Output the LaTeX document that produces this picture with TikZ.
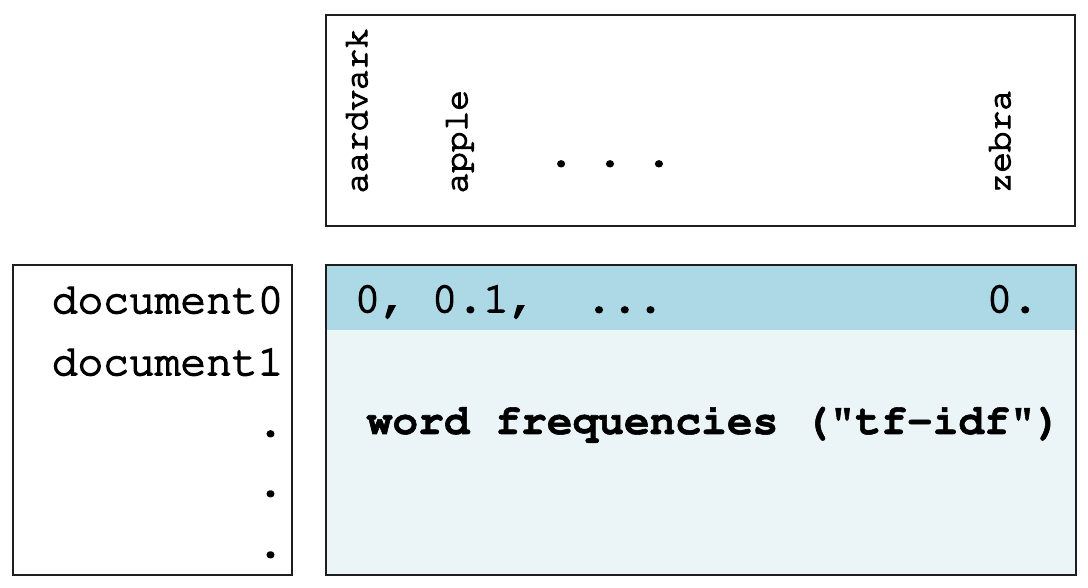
\documentclass[tikz,border=0pt]{standalone}
\usepackage[T1]{fontenc}
\renewcommand{\ttdefault}{pcr}
\definecolor{bandblue}{RGB}{173,216,230}
\definecolor{paleblue}{RGB}{235,244,247}
\definecolor{boxline}{RGB}{30,30,30}
\newcommand{\inkon}[1]{\special{pdf:literal direct 2 Tr #1 w}}
\newcommand{\inkoff}{\special{pdf:literal direct 0 Tr}}
\begin{document}
\begin{tikzpicture}[line width=0.9pt, boxline,
    every node/.style={inner sep=0pt, black, font=\ttfamily\frenchspacing\fontsize{30.5}{36}\selectfont,
        execute at begin node=\inkon{1.1}, execute at end node=\inkoff},
    word/.style={rotate=90, anchor=base west, font=\ttfamily\fontsize{24.5}{29}\selectfont,
        execute at begin node=\inkon{0.9}},
    heading/.style={font=\ttfamily\bfseries\fontsize{30.5}{36}\selectfont,
        execute at begin node=\inkon{0.4}},
    doc/.style={anchor=base east}]
\useasboundingbox (0,0) rectangle (27.2,14.7);
% vocabulary box
\draw (8.15,14.325) rectangle (26.875,9.05);
\node[word] (aardvark) at (9.175,9.85) {aardvark};
\node[word] (apple) at (11.675,9.85) {apple};
\node[word] (zebra) at (25.25,9.85) {zebra};
\node[anchor=base] (wdots) at (15.25,10.55) {.\hspace{0.58cm}.\hspace{0.58cm}.};
% document list
\draw (0.325,8.075) rectangle (7.3,0.325);
\node[doc] (doc0) at (7.1,6.875) {document0};
\node[doc] (doc1) at (7.1,5.325) {document1};
\foreach \y [count=\i] in {3.8,2.3,0.775}
    \node[doc] (ddot\i) at (7.1,\y) {.};
% matrix of weights
\fill[paleblue] (8.15,6.45) rectangle (26.9,0.325);
\fill[bandblue] (8.15,8.075) rectangle (26.9,6.45);
\draw (8.15,8.075) rectangle (26.9,0.325);
\node[anchor=base west] (row0) at (8.85,6.9) {0, 0.1,\ \ ...};
\node[anchor=base west] (last0) at (24.65,6.9) {0.};
\node[heading, anchor=base] (tfidf) at (17.85,3.85) {word frequencies ("tf-idf")};
\end{tikzpicture}
\end{document}
